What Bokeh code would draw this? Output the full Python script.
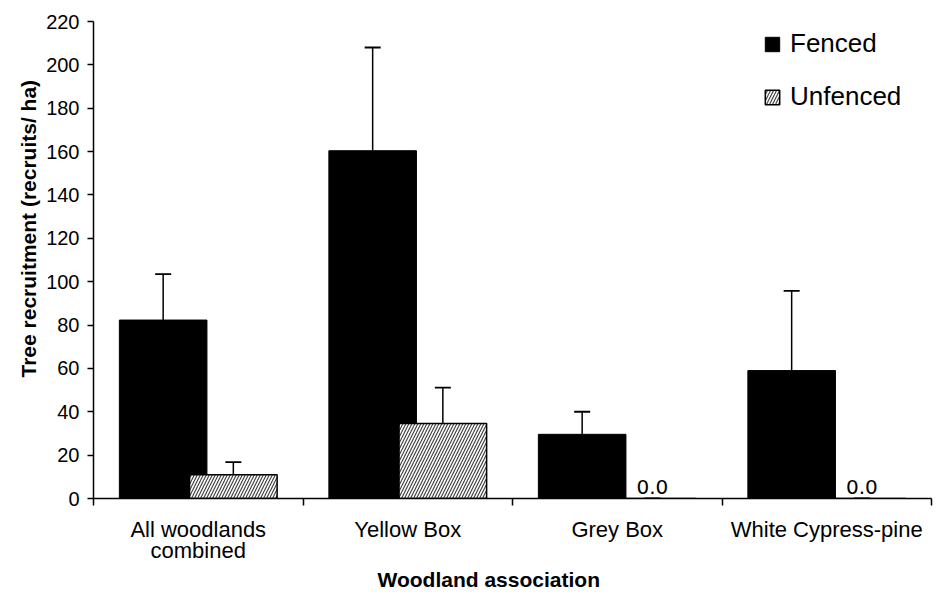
import numpy as np
from bokeh.plotting import figure
from bokeh.models import (ColumnDataSource, FixedTicker, Whisker, TeeHead, Legend,
                          LegendItem, Range1d, Title)
from bokeh.core.properties import value
from bokeh.embed import file_html
from bokeh.resources import INLINE

# ---- data ----
categories = ["All woodlands\ncombined", "Yellow Box", "Grey Box", "White Cypress-pine"]
fenced = [82.3, 160.4, 29.6, 59.0]
fenced_err = [21.2, 47.6, 10.4, 36.8]
unfenced = [10.9, 34.6, 0.0, 0.0]
unfenced_err = [5.9, 16.5, 0.0, 0.0]
y_ticks = [0, 20, 40, 60, 80, 100, 120, 140, 160, 180, 200, 220]
x_title = "Woodland association"
y_title = "Tree recruitment (recruits/ ha)"

FONT = "Liberation Sans"
idx = np.arange(len(categories))
offset = 0.1675
bar_w = 0.418

src_f = ColumnDataSource(dict(
    x=idx + 0.5 - offset, v=fenced,
    top=[a + b for a, b in zip(fenced, fenced_err)]))
src_u = ColumnDataSource(dict(
    x=idx + 0.5 + offset, v=unfenced,
    top=[a + b for a, b in zip(unfenced, unfenced_err)],
    lab=["%.1f" % v if v == 0 else "" for v in unfenced]))

p = figure(width=938, height=592, output_backend="svg", toolbar_location=None,
           x_range=Range1d(0, len(categories)), y_range=Range1d(0, 220),
           min_border_left=93, min_border_right=7, min_border_top=21,
           min_border_bottom=94)
p.outline_line_color = None
p.xgrid.grid_line_color = None
p.ygrid.grid_line_color = None
p.background_fill_color = "white"

rf = p.vbar(x="x", top="v", width=bar_w, bottom=0, source=src_f,
            fill_color="black", line_color="black", line_width=1)
ru = p.vbar(x="x", top="v", width=bar_w, bottom=0, source=src_u,
            fill_color="white", line_color="black", line_width=1.5,
            hatch_pattern="/", hatch_color="#444444", hatch_scale=6,
            hatch_weight=1.2)

for s in (src_f, src_u):
    w = Whisker(source=s, base="x", lower="v", upper="top", dimension="height",
                line_color="black", line_width=1.5,
                upper_head=TeeHead(size=16, line_color="black", line_width=1.8),
                lower_head=None, level="overlay")
    p.add_layout(w)

p.text(x="x", y=0, text="lab", source=src_u, text_align="center",
       text_baseline="alphabetic", y_offset=-12, text_font=value("DejaVu Sans"),
       text_font_size="20px", text_color="black")

# x axis: labels centred, ticks at category boundaries
xa = p.xaxis[0]
xa.ticker = FixedTicker(ticks=list(idx + 0.5), minor_ticks=list(range(len(categories) + 1)))
xa.major_label_overrides = {float(i + 0.5): c for i, c in enumerate(categories)}
xa.major_tick_line_color = None
xa.major_tick_out = 0
xa.major_tick_in = 0
xa.minor_tick_out = 7
xa.minor_tick_in = 0
xa.minor_tick_line_color = "black"
xa.minor_tick_line_width = 1.5
xa.major_label_standoff = 11
xa.major_label_text_font = FONT
xa.major_label_text_font_size = "22px"
xa.major_label_text_line_height = 0.85
xa.major_label_text_color = "black"
xa.axis_line_color = "black"
xa.axis_line_width = 1.5

ya = p.yaxis[0]
ya.ticker = FixedTicker(ticks=y_ticks, minor_ticks=[])
ya.major_tick_out = 6
ya.major_tick_in = 0
ya.major_tick_line_color = "black"
ya.major_tick_line_width = 1.5
ya.minor_tick_line_color = None
ya.axis_line_color = "black"
ya.axis_line_width = 1.5
ya.major_label_standoff = 8
ya.major_label_text_font = FONT
ya.major_label_text_font_size = "20px"
ya.major_label_text_color = "black"

# axis titles (offset like the original, which centres them on the chart area)
tx = Title(text=x_title, align="left", offset=284, standoff=0,
           text_font=FONT, text_font_size="21px", text_font_style="bold",
           text_color="black")
p.add_layout(tx, "below")
ty = Title(text=y_title, align="left", offset=121, standoff=8,
           text_font=FONT, text_font_size="21px", text_font_style="bold",
           text_color="black")
p.add_layout(ty, "left")

legend = Legend(items=[LegendItem(label="Fenced", renderers=[rf]),
                       LegendItem(label="Unfenced", renderers=[ru])],
                location=(670, 386), orientation="vertical",
                glyph_width=18, glyph_height=18, label_standoff=9,
                spacing=22, padding=0, margin=0,
                label_text_font=FONT, label_text_font_size="26px",
                label_text_color="black",
                border_line_color=None, background_fill_alpha=0)
p.add_layout(legend)

open("out.html", "w").write(file_html(p, INLINE))
